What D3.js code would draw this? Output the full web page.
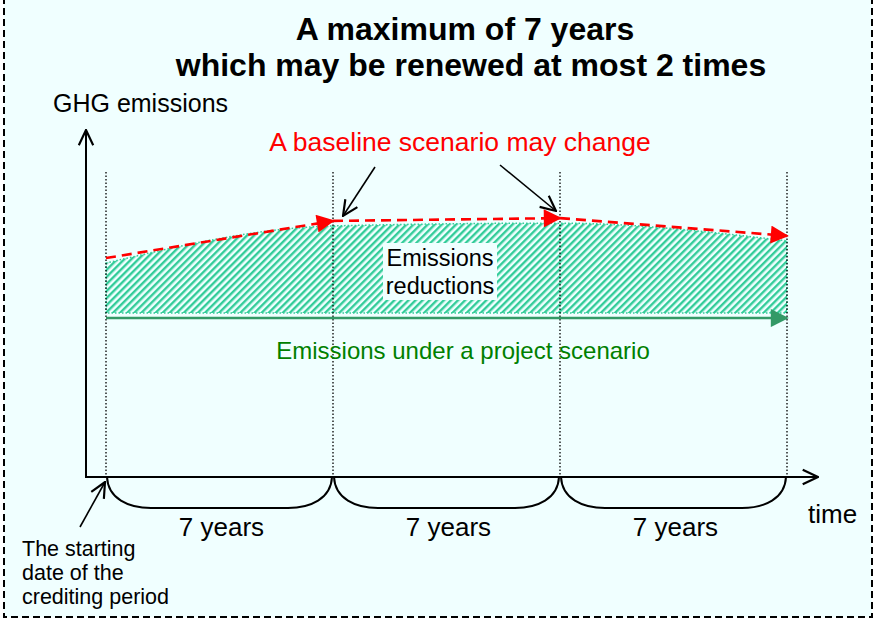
<!DOCTYPE html>
<html lang="en">
<head>
<meta charset="UTF-8">
<title>Crediting period</title>
<script src="https://d3js.org/d3.v7.min.js"></script>
<style>
  body { margin: 0; background: #fff; }
  svg text { font-family: "Liberation Sans", Arial, sans-serif; }
</style>
</head>
<body>
<svg id="chart" width="883" height="620"></svg>
<script>
// data
const periodEnds = [0, 7, 14, 21];               // years since start of crediting period
const baseline = [63.1, 73.8, 74.6, 69.5];       // baseline emissions at each renewal
const project = [45.8, 45.8, 45.8, 45.8];        // project scenario emissions
const periodLabels = ["7 years", "7 years", "7 years"];
const titleLines = ["A maximum of 7 years", "which may be renewed at most 2 times"];
const startNote = ["The starting", "date of the", "crediting period"];

const svg = d3.select("#chart");

// frame
svg.append("rect").attr("x", 4).attr("y", -4).attr("width", 868).attr("height", 621)
  .attr("fill", "#f0ffff").attr("stroke", "#000").attr("stroke-width", 2)
  .attr("stroke-dasharray", "7,4");

const x = d3.scaleLinear().domain([0, 21]).range([106, 787]);
const y = d3.scaleLinear().domain([0, 100]).range([477, 130]);

const defs = svg.append("defs");
function arrowMarker(id, color, open) {
  const m = defs.append("marker").attr("id", id)
    .attr("viewBox", "0 0 10 10").attr("refX", open ? 9.5 : 9).attr("refY", 5)
    .attr("markerUnits", "userSpaceOnUse")
    .attr("markerWidth", open ? 18 : 22).attr("markerHeight", open ? 18 : 18)
    .attr("orient", "auto");
  if (open) {
    m.append("path").attr("d", "M1,1 L9.5,5 L1,9").attr("fill", "none")
      .attr("stroke", color).attr("stroke-width", 1.2);
  } else {
    m.append("path").attr("d", "M0,0 L10,5 L0,10 Z").attr("fill", color);
  }
}
arrowMarker("openBlack", "#000", true);
arrowMarker("redHead", "#ff0000", false);
arrowMarker("greenHead", "#339966", false);

const pat = defs.append("pattern").attr("id", "hatch")
  .attr("patternUnits", "userSpaceOnUse").attr("width", 5).attr("height", 5)
  .attr("patternTransform", "rotate(45)");
pat.append("rect").attr("width", 5).attr("height", 5).attr("fill", "#f0ffff");
pat.append("rect").attr("width", 2.4).attr("height", 5).attr("fill", "#33cc99");

// title
svg.selectAll(".title").data(titleLines).join("text")
  .attr("x", (d, i) => i ? 471 : 465).attr("y", (d, i) => 40 + i * 36)
  .attr("text-anchor", "middle").attr("font-size", 32).attr("font-weight", "bold")
  .text(d => d);

// emissions reductions area
const area = d3.area()
  .x(d => x(d.t)).y0(d => y(d.p) - 5).y1(d => y(d.b) + 5)
  .curve(d3.curveMonotoneX);
const pts = periodEnds.map((t, i) => ({ t, b: baseline[i], p: project[i] }));
svg.append("path").attr("d", area(pts)).attr("fill", "url(#hatch)")
  .attr("stroke", "#33cc99").attr("stroke-width", 1.5).attr("stroke-dasharray", "1.5,2");

// period separators
svg.selectAll(".sep").data(periodEnds).join("line")
  .attr("x1", d => x(d)).attr("x2", d => x(d))
  .attr("y1", 172).attr("y2", y(0))
  .attr("stroke", "#000").attr("stroke-width", 1.3).attr("stroke-dasharray", "1.5,2");

// baseline segments
d3.range(periodEnds.length - 1).forEach(i => {
  svg.append("line")
    .attr("x1", x(periodEnds[i])).attr("y1", y(baseline[i]))
    .attr("x2", x(periodEnds[i + 1])).attr("y2", y(baseline[i + 1]))
    .attr("stroke", "#ff0000").attr("stroke-width", 2.6).attr("stroke-dasharray", "10,6")
    .attr("marker-end", "url(#redHead)");
});

// project line
svg.append("line")
  .attr("x1", x(0)).attr("y1", y(project[0]))
  .attr("x2", x(21)).attr("y2", y(project[3]))
  .attr("stroke", "#339966").attr("stroke-width", 2.5)
  .attr("marker-end", "url(#greenHead)");

// axes
svg.append("line").attr("x1", 86).attr("y1", y(0)).attr("x2", 86).attr("y2", 130)
  .attr("stroke", "#000").attr("stroke-width", 2).attr("marker-end", "url(#openBlack)");
svg.append("line").attr("x1", 85).attr("y1", y(0)).attr("x2", 818).attr("y2", y(0))
  .attr("stroke", "#000").attr("stroke-width", 2).attr("marker-end", "url(#openBlack)");

svg.append("text").attr("x", 53).attr("y", 112).attr("font-size", 25).text("GHG emissions");
svg.append("text").attr("x", 808).attr("y", 523).attr("font-size", 26).text("time");

// labels
svg.append("rect").attr("x", 383).attr("y", 243).attr("width", 114).attr("height", 57)
  .attr("fill", "#f0ffff");
svg.selectAll(".red").data(["Emissions", "reductions"]).join("text")
  .attr("x", 440).attr("y", (d, i) => 266 + i * 28).attr("text-anchor", "middle")
  .attr("font-size", 23.5).text(d => d);

svg.append("text").attr("x", 460).attr("y", 151).attr("text-anchor", "middle")
  .attr("font-size", 26.5).attr("fill", "#ff0000").text("A baseline scenario may change");
svg.append("line").attr("x1", 375).attr("y1", 167).attr("x2", 343).attr("y2", 216)
  .attr("stroke", "#000").attr("stroke-width", 1.6).attr("marker-end", "url(#openBlack)");
svg.append("line").attr("x1", 500).attr("y1", 165).attr("x2", 556).attr("y2", 211)
  .attr("stroke", "#000").attr("stroke-width", 1.6).attr("marker-end", "url(#openBlack)");

svg.append("text").attr("x", 463).attr("y", 359).attr("text-anchor", "middle")
  .attr("font-size", 24).attr("fill", "#008000").text("Emissions under a project scenario");

// braces under each period
const by = y(0), depth = 31, r = 45;
d3.range(periodLabels.length).forEach(i => {
  const a = x(periodEnds[i]), b = x(periodEnds[i + 1]);
  const p = d3.path();
  p.moveTo(a + 1, by);
  p.bezierCurveTo(a + 2, by + depth * 0.7, a + r * 0.5, by + depth, a + r, by + depth);
  p.lineTo(b - r, by + depth);
  p.bezierCurveTo(b - r * 0.5, by + depth, b - 2, by + depth * 0.7, b - 1, by);
  svg.append("path").attr("d", p.toString()).attr("fill", "none")
    .attr("stroke", "#000").attr("stroke-width", 2);
});
svg.selectAll(".plab").data(periodLabels).join("text")
  .attr("x", (d, i) => (x(periodEnds[i]) + x(periodEnds[i + 1])) / 2 + 2)
  .attr("y", 536).attr("text-anchor", "middle").attr("font-size", 26).text(d => d);

// start note
svg.append("line").attr("x1", 80).attr("y1", 527).attr("x2", 105).attr("y2", 482)
  .attr("stroke", "#000").attr("stroke-width", 1.6).attr("marker-end", "url(#openBlack)");
svg.selectAll(".note").data(startNote).join("text")
  .attr("x", 22).attr("y", (d, i) => 556 + i * 24).attr("font-size", 21.5).text(d => d);
</script>
</body>
</html>
